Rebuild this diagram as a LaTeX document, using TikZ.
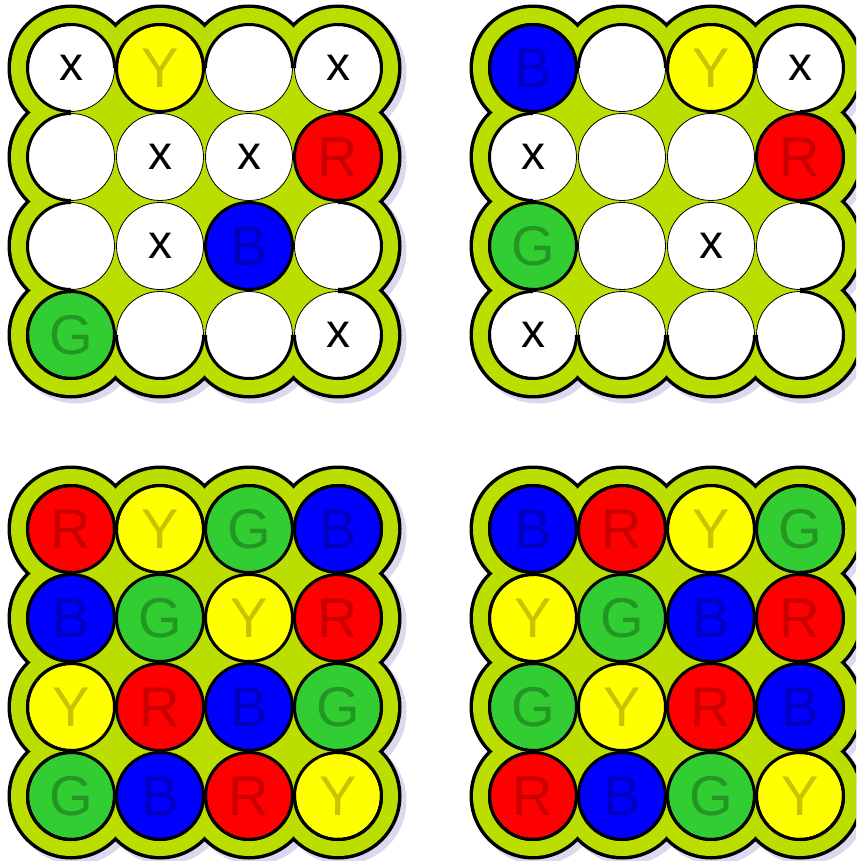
\documentclass[tikz,border=0pt]{standalone}
\usepackage{fontspec}
\setmainfont{Liberation Sans}
\usetikzlibrary{positioning}

\definecolor{boardgreen}{RGB}{187,221,0}
\definecolor{boardshadow}{RGB}{218,218,238}
\definecolor{pegred}{RGB}{255,0,0}
\definecolor{pegyellow}{RGB}{255,255,0}
\definecolor{pegblue}{RGB}{0,0,255}
\definecolor{peggreen}{RGB}{50,205,50}
\definecolor{txtred}{RGB}{200,0,0}
\definecolor{txtyellow}{RGB}{200,195,0}
\definecolor{txtblue}{RGB}{0,0,190}
\definecolor{txtgreen}{RGB}{36,150,36}

\tikzset{
  disc/.style={circle, minimum size=87pt, inner sep=0pt, outer sep=0pt, fill=white, draw=black, line width=0.8pt},
  peg/.style={line width=3pt, font=\fontsize{56}{56}\selectfont},
  rim/.style={line width=3pt},
  cellE/.style={},
  cellX/.style={font=\fontsize{48}{48}\selectfont},
  cellR/.style={peg, fill=pegred, text=txtred},
  cellY/.style={peg, fill=pegyellow, text=txtyellow},
  cellG/.style={peg, fill=peggreen, text=txtgreen},
  cellB/.style={peg, fill=pegblue, text=txtblue},
}
\newcommand{\celltextE}{}
\newcommand{\celltextX}{x}
\newcommand{\celltextR}{R}
\newcommand{\celltextY}{Y}
\newcommand{\celltextG}{G}
\newcommand{\celltextB}{B}

% one board: name, x, y of the top left hole, 16 cells row by row
\newcommand{\drawboard}[4]{%
  \begin{scope}[shift={(#2,#3)}]
    \foreach \r in {0,...,3}
      \foreach \c in {0,...,3}
        \fill[boardshadow] (89*\c+5,-89*\r-5) circle (63.5pt);
    \foreach \r in {0,...,3}
      \foreach \c in {0,...,3}
        \fill[black] (89*\c,-89*\r) circle (63.5pt);
    \foreach \r in {0,...,3}
      \foreach \c in {0,...,3}
        \fill[boardgreen] (89*\c,-89*\r) circle (60pt);
    \fill[boardgreen] (0,0) rectangle (267,-267);
    \foreach \k [count=\i from 0] in {#4} {
      \pgfmathtruncatemacro{\r}{\i/4}
      \pgfmathtruncatemacro{\c}{mod(\i,4)}
      \node[disc, cell\k] (#1-\r-\c) at (89*\c,-89*\r) {\csname celltext\k\endcsname};
    }
    \foreach \c in {0,...,3} {
      \draw[rim] (#1-0-\c.west) arc[start angle=180, end angle=0, radius=43.5pt];
      \draw[rim] (#1-3-\c.west) arc[start angle=180, end angle=360, radius=43.5pt];
      \draw[rim] (#1-\c-0.north) arc[start angle=90, end angle=270, radius=43.5pt];
      \draw[rim] (#1-\c-3.south) arc[start angle=-90, end angle=90, radius=43.5pt];
    }
  \end{scope}}

\begin{document}
\begin{tikzpicture}[x=1pt, y=1pt]
  \useasboundingbox (0,0) rectangle (856,-861);
  \clip (0,0) rectangle (856,-861);

  % puzzles
  \drawboard{ul}{71}{-68}{X,Y,E,X, E,X,X,R, E,X,B,E, G,E,E,X}
  \drawboard{ur}{533}{-68}{B,E,Y,X, X,E,E,R, G,E,X,E, X,E,E,E}

  % solutions
  \drawboard{ll}{71}{-529}{R,Y,G,B, B,G,Y,R, Y,R,B,G, G,B,R,Y}
  \drawboard{lr}{533}{-529}{B,R,Y,G, Y,G,B,R, G,Y,R,B, R,B,G,Y}
\end{tikzpicture}
\end{document}
